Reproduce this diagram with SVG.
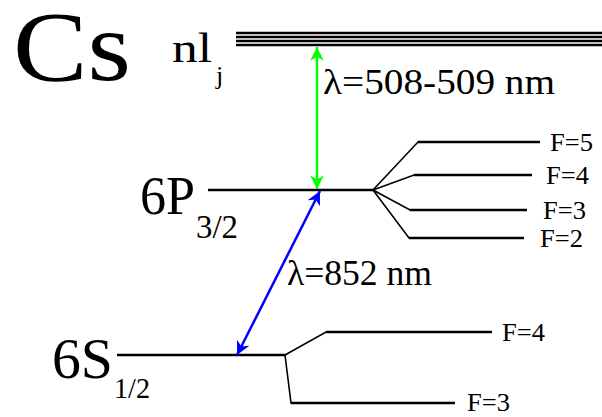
<svg xmlns="http://www.w3.org/2000/svg" width="602" height="417" viewBox="0 0 602 417">
<defs>
<style>
.t{font-family:"Liberation Serif","Times New Roman",serif;fill:#000}
.lvl{stroke:#000;stroke-width:2.6;fill:none}
.fan{stroke:#000;stroke-width:1.6;fill:none}
.f{font-size:25px}
</style>
<marker id="ag" viewBox="0 0 10 10" refX="10" refY="5" markerWidth="6.5" markerHeight="5.5" orient="auto-start-reverse" markerUnits="strokeWidth"><path d="M0,0 L10,5 L0,10 L3,5 Z" fill="#00ff00"/></marker>
<marker id="ab" viewBox="0 0 10 10" refX="10" refY="5" markerWidth="6.5" markerHeight="5.5" orient="auto-start-reverse" markerUnits="strokeWidth"><path d="M0,0 L10,5 L0,10 L3,5 Z" fill="#0000ff"/></marker>
</defs>
<rect width="602" height="417" fill="#fff"/>
<g id="title"><text class="t" x="13" y="80" font-size="100" textLength="118" lengthAdjust="spacingAndGlyphs">Cs</text></g>
<g id="nlj">
<text class="t" x="172" y="62" font-size="42" textLength="40" lengthAdjust="spacingAndGlyphs">nl</text>
<text class="t" x="216" y="84" font-size="26">j</text>
<line class="lvl" x1="236" y1="33" x2="602" y2="33"/>
<line class="lvl" x1="236" y1="37" x2="602" y2="37"/>
<line class="lvl" x1="236" y1="41" x2="602" y2="41"/>
<line class="lvl" x1="236" y1="45" x2="602" y2="45"/>
</g>
<g id="p32">
<text class="t" x="140" y="214" font-size="54" textLength="55" lengthAdjust="spacingAndGlyphs">6P</text>
<text class="t" x="196" y="238" font-size="33" textLength="42" lengthAdjust="spacingAndGlyphs">3/2</text>
<line class="lvl" x1="208" y1="190" x2="373" y2="190"/>
<polyline class="fan" points="373,190 418,142 540,142"/>
<polyline class="fan" points="373,190 414,175 532,175"/>
<polyline class="fan" points="373,190 410,210 527,210"/>
<polyline class="fan" points="373,190 409,238 524,238"/>
<line class="lvl" x1="418" y1="142" x2="540" y2="142"/>
<line class="lvl" x1="414" y1="175" x2="532" y2="175"/>
<line class="lvl" x1="410" y1="210" x2="527" y2="210"/>
<line class="lvl" x1="409" y1="238" x2="524" y2="238"/>
<text class="t f" x="550" y="151" textLength="43" lengthAdjust="spacingAndGlyphs">F=5</text>
<text class="t f" x="546" y="184" textLength="43" lengthAdjust="spacingAndGlyphs">F=4</text>
<text class="t f" x="543" y="219" textLength="43" lengthAdjust="spacingAndGlyphs">F=3</text>
<text class="t f" x="540" y="247" textLength="43" lengthAdjust="spacingAndGlyphs">F=2</text>
</g>
<g id="s12">
<text class="t" x="52" y="378" font-size="56" textLength="61" lengthAdjust="spacingAndGlyphs">6S</text>
<text class="t" x="114" y="398" font-size="30" textLength="36" lengthAdjust="spacingAndGlyphs">1/2</text>
<line class="lvl" x1="117" y1="355" x2="285" y2="355"/>
<polyline class="fan" points="285,355 326,332 492,332"/>
<polyline class="fan" points="285,355 291,403 455,403"/>
<line class="lvl" x1="326" y1="332" x2="492" y2="332"/>
<line class="lvl" x1="291" y1="403" x2="455" y2="403"/>
<text class="t f" x="502" y="341" textLength="43" lengthAdjust="spacingAndGlyphs">F=4</text>
<text class="t f" x="467" y="411" textLength="43" lengthAdjust="spacingAndGlyphs">F=3</text>
</g>
<g id="connectors">
<line x1="317" y1="47" x2="317" y2="189" stroke="#00ff00" stroke-width="2.5" marker-start="url(#ag)" marker-end="url(#ag)"/>
<line x1="320" y1="191" x2="237" y2="355" stroke="#0000ff" stroke-width="2.5" marker-start="url(#ab)" marker-end="url(#ab)"/>
<text class="t" x="323" y="94" font-size="35" textLength="232" lengthAdjust="spacingAndGlyphs">λ=508-509 nm</text>
<text class="t" x="287" y="285" font-size="35" textLength="145" lengthAdjust="spacingAndGlyphs">λ=852 nm</text>
</g>
</svg>
